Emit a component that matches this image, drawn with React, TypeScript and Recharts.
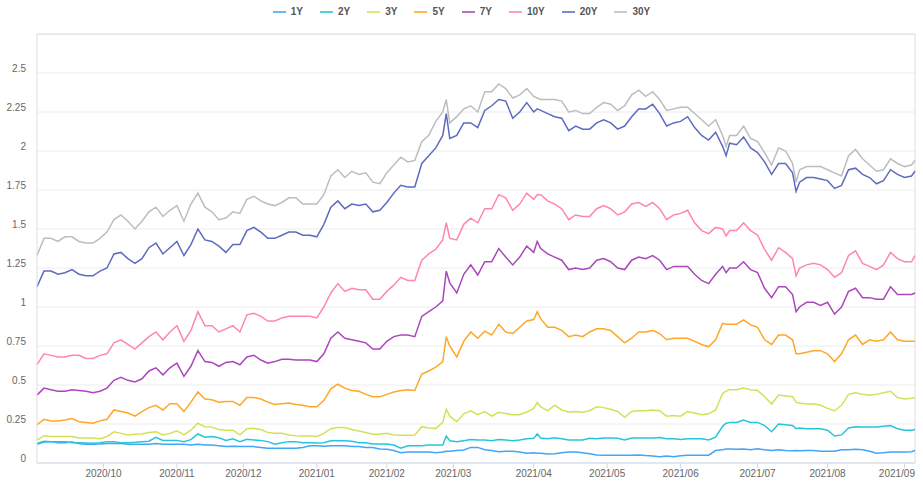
import React from "react";
import { LineChart, Line, XAxis, YAxis, CartesianGrid, ReferenceLine } from "recharts";

// trading-day number counted from 2020-09-03
const dayIndex = [
  0, 2, 4, 6, 8, 10, 12, 14, 16, 18,
  20, 22, 24, 26, 28, 30, 32, 34, 36, 38,
  40, 42, 44, 46, 48, 50, 52, 54, 56, 58,
  60, 62, 64, 66, 68, 70, 72, 74, 76, 78,
  80, 82, 84, 86, 88, 90, 92, 94, 96, 98,
  100, 102, 104, 106, 108, 110, 112, 114, 116,
  117, 118, 120, 122, 124, 126, 128, 130, 132, 134,
  136, 138, 140, 142, 143, 144, 146, 148, 150, 152, 154,
  156, 158, 160, 162, 164, 166, 168, 170, 172, 174,
  176, 178, 180, 182, 184, 186, 188, 190, 192, 194,
  196, 197, 198, 200, 202, 204, 206, 208, 210, 212,
  214, 216, 217, 218, 220, 222, 224, 226, 228, 230,
  232, 234, 236, 238, 240, 242, 244, 246, 248, 250,
  251,
];

const y1 = [
  0.12, 0.135, 0.137, 0.13, 0.13, 0.135, 0.125, 0.12, 0.12, 0.122,
  0.125, 0.125, 0.125, 0.12, 0.12, 0.12, 0.12, 0.125, 0.12, 0.12,
  0.12, 0.12, 0.115, 0.12, 0.115, 0.115, 0.11, 0.105, 0.107, 0.105,
  0.105, 0.105, 0.1, 0.095, 0.094, 0.094, 0.094, 0.094, 0.1, 0.11,
  0.11, 0.108, 0.11, 0.11, 0.11, 0.105, 0.105, 0.1, 0.1, 0.09,
  0.088, 0.08, 0.066, 0.07, 0.07, 0.07, 0.07, 0.065, 0.07,
  0.075, 0.075, 0.08, 0.083, 0.1, 0.1, 0.085, 0.08, 0.072, 0.075,
  0.075, 0.07, 0.062, 0.065, 0.063, 0.062, 0.058, 0.06, 0.065, 0.07, 0.07,
  0.065, 0.06, 0.052, 0.05, 0.05, 0.05, 0.05, 0.05, 0.052, 0.048,
  0.045, 0.04, 0.045, 0.04, 0.047, 0.05, 0.05, 0.05, 0.05, 0.08,
  0.085, 0.09, 0.09, 0.088, 0.09, 0.085, 0.092, 0.085, 0.08, 0.085,
  0.08, 0.079, 0.08, 0.078, 0.08, 0.08, 0.076, 0.076, 0.075, 0.085,
  0.085, 0.088, 0.085, 0.075, 0.062, 0.065, 0.07, 0.07, 0.07, 0.072,
  0.08,
];

const y2 = [
  0.126, 0.14, 0.137, 0.137, 0.137, 0.13, 0.13, 0.128, 0.126, 0.13,
  0.137, 0.137, 0.13, 0.13, 0.133, 0.137, 0.14, 0.165, 0.145, 0.145,
  0.145, 0.137, 0.15, 0.186, 0.165, 0.17, 0.162, 0.145, 0.155, 0.137,
  0.152, 0.148, 0.145, 0.137, 0.12, 0.13, 0.137, 0.137, 0.13, 0.13,
  0.128, 0.13, 0.143, 0.143, 0.143, 0.14, 0.13, 0.13, 0.122, 0.122,
  0.122, 0.115, 0.095, 0.11, 0.11, 0.11, 0.115, 0.115, 0.115,
  0.173, 0.143, 0.137, 0.143, 0.15, 0.147, 0.147, 0.143, 0.15, 0.147,
  0.143, 0.147, 0.155, 0.158, 0.186, 0.16, 0.155, 0.162, 0.155, 0.147, 0.147,
  0.147, 0.158, 0.155, 0.16, 0.16, 0.158, 0.147, 0.16, 0.16, 0.16,
  0.16, 0.163, 0.155, 0.155, 0.15, 0.155, 0.155, 0.155, 0.147, 0.165,
  0.235, 0.255, 0.26, 0.26, 0.276, 0.26, 0.26, 0.24, 0.2, 0.25,
  0.245, 0.24, 0.22, 0.225, 0.22, 0.22, 0.22, 0.21, 0.173, 0.18,
  0.225, 0.233, 0.23, 0.23, 0.23, 0.235, 0.24, 0.22, 0.21, 0.21,
  0.215,
];

const y3 = [
  0.147, 0.175, 0.17, 0.17, 0.17, 0.17, 0.16, 0.16, 0.16, 0.155,
  0.17, 0.2, 0.19, 0.18, 0.185, 0.186, 0.195, 0.2, 0.18, 0.19,
  0.207, 0.18, 0.21, 0.255, 0.233, 0.23, 0.215, 0.21, 0.21, 0.18,
  0.22, 0.222, 0.215, 0.195, 0.19, 0.19, 0.18, 0.175, 0.173, 0.173,
  0.17, 0.19, 0.22, 0.228, 0.228, 0.215, 0.205, 0.195, 0.185, 0.185,
  0.19, 0.18, 0.178, 0.178, 0.18, 0.233, 0.225, 0.222, 0.26,
  0.344, 0.3, 0.265, 0.315, 0.335, 0.31, 0.33, 0.3, 0.325, 0.317,
  0.31, 0.31, 0.327, 0.35, 0.387, 0.36, 0.335, 0.37, 0.34, 0.327, 0.33,
  0.325, 0.335, 0.36, 0.355, 0.345, 0.33, 0.293, 0.33, 0.335, 0.335,
  0.34, 0.335, 0.3, 0.305, 0.3, 0.33, 0.32, 0.31, 0.315, 0.34,
  0.445, 0.46, 0.47, 0.47, 0.48, 0.47, 0.465, 0.425, 0.378, 0.436,
  0.43, 0.425, 0.39, 0.385, 0.378, 0.38, 0.37, 0.35, 0.335, 0.37,
  0.44, 0.45, 0.44, 0.435, 0.44, 0.45, 0.46, 0.42, 0.41, 0.415,
  0.42,
];

const y5 = [
  0.245, 0.28, 0.27, 0.27, 0.275, 0.285, 0.265, 0.26, 0.255, 0.27,
  0.28, 0.34, 0.33, 0.32, 0.3, 0.33, 0.355, 0.37, 0.34, 0.38,
  0.38, 0.33, 0.39, 0.455, 0.41, 0.405, 0.39, 0.395, 0.395, 0.37,
  0.42, 0.42, 0.41, 0.39, 0.375, 0.38, 0.385, 0.375, 0.37, 0.36,
  0.36, 0.4, 0.475, 0.505, 0.48, 0.465, 0.46, 0.44, 0.425, 0.425,
  0.44, 0.455, 0.465, 0.47, 0.465, 0.57, 0.59, 0.615, 0.65,
  0.81, 0.75, 0.68, 0.78, 0.84, 0.8, 0.845, 0.82, 0.89, 0.84,
  0.83, 0.87, 0.91, 0.92, 0.97, 0.925, 0.87, 0.87, 0.85, 0.81, 0.82,
  0.81, 0.84, 0.86, 0.86, 0.85, 0.81, 0.77, 0.8, 0.84, 0.84,
  0.85, 0.83, 0.79, 0.8, 0.8, 0.8, 0.78, 0.76, 0.745, 0.79,
  0.895, 0.89, 0.89, 0.89, 0.917, 0.885, 0.87, 0.79, 0.76, 0.82,
  0.82, 0.79, 0.7, 0.7, 0.71, 0.72, 0.72, 0.7, 0.65, 0.7,
  0.79, 0.82, 0.76, 0.79, 0.78, 0.79, 0.84, 0.79, 0.78, 0.78,
  0.78,
];

const y7 = [
  0.435, 0.48, 0.47, 0.46, 0.46, 0.47, 0.465, 0.46, 0.45, 0.46,
  0.48, 0.53, 0.55, 0.53, 0.52, 0.54, 0.59, 0.61, 0.565, 0.61,
  0.64, 0.555, 0.62, 0.72, 0.65, 0.645, 0.62, 0.645, 0.65, 0.63,
  0.68, 0.69, 0.66, 0.64, 0.65, 0.665, 0.665, 0.66, 0.66, 0.66,
  0.65, 0.7, 0.8, 0.84, 0.8, 0.79, 0.78, 0.77, 0.73, 0.73,
  0.78, 0.81, 0.82, 0.82, 0.81, 0.94, 0.97, 1.0, 1.04,
  1.23, 1.155, 1.09, 1.21, 1.27, 1.205, 1.29, 1.29, 1.375, 1.32,
  1.27, 1.32, 1.39, 1.35, 1.42, 1.375, 1.34, 1.32, 1.3, 1.24, 1.25,
  1.24, 1.25, 1.3, 1.31, 1.29, 1.25, 1.24, 1.3, 1.32, 1.31,
  1.33, 1.3, 1.24, 1.26, 1.26, 1.26, 1.21, 1.17, 1.15, 1.21,
  1.26, 1.22, 1.25, 1.25, 1.29, 1.24, 1.22, 1.12, 1.06, 1.13,
  1.13, 1.08, 0.97, 1.0, 1.03, 1.03, 1.01, 1.03, 0.955, 1.0,
  1.1, 1.12, 1.06, 1.06, 1.05, 1.05, 1.13, 1.08, 1.08, 1.08,
  1.09,
];

const y10 = [
  0.63, 0.7, 0.69, 0.68, 0.68, 0.69, 0.69, 0.67, 0.67, 0.69,
  0.7, 0.77, 0.79, 0.76, 0.73, 0.77, 0.81, 0.84, 0.79, 0.84,
  0.88, 0.78, 0.85, 0.97, 0.88, 0.88, 0.84, 0.86, 0.88, 0.84,
  0.95, 0.96, 0.94, 0.91, 0.91, 0.93, 0.94, 0.94, 0.94, 0.94,
  0.93, 1.0, 1.09, 1.15, 1.1, 1.12, 1.11, 1.11, 1.05, 1.05,
  1.1, 1.14, 1.19, 1.17, 1.17, 1.3, 1.34, 1.37, 1.43,
  1.54, 1.44, 1.43, 1.53, 1.57, 1.54, 1.63, 1.63, 1.72, 1.7,
  1.62, 1.66, 1.73, 1.69, 1.72, 1.72, 1.68, 1.66, 1.63, 1.56, 1.59,
  1.58, 1.58, 1.63, 1.65, 1.63, 1.59, 1.61, 1.66, 1.67, 1.645,
  1.67, 1.63, 1.56, 1.59, 1.6, 1.62, 1.54, 1.49, 1.47, 1.51,
  1.5, 1.455, 1.49, 1.49, 1.54, 1.49, 1.46, 1.37, 1.3, 1.38,
  1.35, 1.31, 1.2, 1.25, 1.27, 1.28, 1.27, 1.24, 1.19, 1.22,
  1.33, 1.36, 1.28, 1.26, 1.24, 1.27, 1.35, 1.31, 1.29, 1.29,
  1.33,
];

const y20 = [
  1.13, 1.23, 1.23, 1.21, 1.22, 1.24, 1.21, 1.2, 1.2, 1.23,
  1.25, 1.34, 1.35, 1.31, 1.28, 1.31, 1.38, 1.41, 1.34, 1.38,
  1.42, 1.33, 1.4, 1.5, 1.43, 1.42, 1.39, 1.35, 1.4, 1.4,
  1.49, 1.51, 1.48, 1.44, 1.44, 1.46, 1.48, 1.48, 1.46, 1.46,
  1.45, 1.53, 1.64, 1.68, 1.63, 1.66, 1.65, 1.66, 1.61, 1.62,
  1.67, 1.73, 1.78, 1.77, 1.77, 1.92, 1.97, 2.02, 2.1,
  2.24, 2.08, 2.1, 2.18, 2.18, 2.15, 2.26, 2.29, 2.33, 2.32,
  2.21, 2.25, 2.31, 2.25, 2.27, 2.26, 2.24, 2.22, 2.21, 2.13, 2.16,
  2.14, 2.14, 2.18, 2.2, 2.18, 2.14, 2.16, 2.22, 2.27, 2.27,
  2.3, 2.24, 2.16, 2.18, 2.19, 2.22, 2.15, 2.1, 2.07, 2.12,
  2.03, 1.97, 2.05, 2.04, 2.09, 2.02, 1.99, 1.93, 1.85, 1.92,
  1.92, 1.86, 1.74, 1.8, 1.83, 1.83, 1.82, 1.81, 1.76, 1.78,
  1.88, 1.89, 1.85, 1.83, 1.79, 1.81, 1.88, 1.85, 1.83, 1.84,
  1.87,
];

const y30 = [
  1.33, 1.44, 1.44, 1.42, 1.45, 1.45, 1.42, 1.41, 1.41, 1.44,
  1.48, 1.56, 1.59, 1.55, 1.5, 1.55, 1.61, 1.64, 1.58, 1.62,
  1.65, 1.55, 1.66, 1.73, 1.64, 1.61, 1.56, 1.57, 1.61, 1.6,
  1.69, 1.71, 1.68, 1.66, 1.65, 1.67, 1.7, 1.7, 1.66, 1.66,
  1.66, 1.72, 1.84, 1.88, 1.83, 1.87, 1.85, 1.86, 1.8, 1.79,
  1.86, 1.91, 1.96, 1.93, 1.94, 2.06, 2.1, 2.19, 2.25,
  2.33, 2.18, 2.22, 2.27, 2.29, 2.25, 2.38, 2.38, 2.43, 2.4,
  2.34, 2.36, 2.4, 2.35, 2.34, 2.33, 2.33, 2.33, 2.32, 2.25, 2.26,
  2.24, 2.24, 2.28, 2.31, 2.3, 2.26, 2.29, 2.36, 2.39, 2.35,
  2.38, 2.33, 2.26, 2.27, 2.28, 2.28, 2.24, 2.2, 2.16, 2.2,
  2.1, 2.03, 2.1, 2.1, 2.16, 2.08, 2.06, 1.99, 1.91, 2.02,
  2.0, 1.92, 1.8, 1.88, 1.9, 1.9, 1.9, 1.88, 1.86, 1.84,
  1.97, 2.01, 1.95, 1.91, 1.87, 1.88, 1.95, 1.92, 1.9, 1.91,
  1.94,
];

const monthTicks = [19, 40, 59, 80, 100, 119, 142, 163, 184, 206, 226, 248];
const monthLabels = [
  "2020/10", "2020/11", "2020/12", "2021/01", "2021/02", "2021/03",
  "2021/04", "2021/05", "2021/06", "2021/07", "2021/08", "2021/09",
];
const yTicks = [0, 0.25, 0.5, 0.75, 1, 1.25, 1.5, 1.75, 2, 2.25, 2.5];
const yTickLabels = ["0", "0.25", "0.5", "0.75", "1", "1.25", "1.5", "1.75", "2", "2.25", "2.5"];

const seriesNames = ["1Y", "2Y", "3Y", "5Y", "7Y", "10Y", "20Y", "30Y"];
const seriesValues = [y1, y2, y3, y5, y7, y10, y20, y30];
const seriesColors = ["#42a5f5", "#26c6da", "#d4e157", "#ffa726", "#ab47bc", "#ff85b5", "#5c6bc0", "#bdbdbd"];

const data = dayIndex.map((d, i) => {
  const row: Record<string, number> = { d };
  seriesNames.forEach((name, s) => {
    row[name] = seriesValues[s][i];
  });
  return row;
});

const FONT = "'Liberation Sans', Arial, sans-serif";
const CHART_W = 923;
const RIGHT_MARGIN = 8;

const XTick = (props: any) => {
  const { x, y, payload } = props;
  const idx = monthTicks.indexOf(payload.value);
  const label = idx >= 0 ? monthLabels[idx] : "";
  const plotRight = CHART_W - RIGHT_MARGIN;
  const halfW = 18;
  const overflow = x + halfW > plotRight;
  return (
    <text
      x={overflow ? plotRight : x}
      y={y + 6.5}
      textAnchor={overflow ? "end" : "middle"}
      fill="#666"
      fontSize={10}
      fontFamily={FONT}
    >
      {label}
    </text>
  );
};

const YTick = (props: any) => {
  const { x, y, payload } = props;
  const idx = yTicks.indexOf(payload.value);
  return (
    <text x={x - 3} y={y - 1} textAnchor="end" fill="#666" fontSize={10} fontFamily={FONT}>
      {idx >= 0 ? yTickLabels[idx] : payload.value}
    </text>
  );
};

export default function App() {
  return (
    <div style={{ position: "relative", width: CHART_W, height: 487, fontFamily: FONT }}>
      <style>{"body{margin:0}"}</style>
      <div
        style={{
          position: "absolute",
          top: 0,
          left: 0,
          width: CHART_W,
          height: 24,
          display: "flex",
          justifyContent: "center",
          alignItems: "center",
          zIndex: 2,
        }}
      >
        {seriesNames.map((name, s) => (
          <div
            key={name}
            style={{
              display: "flex",
              alignItems: "center",
              marginRight: s < seriesNames.length - 1 ? 17 : 0,
            }}
          >
            <span
              style={{
                display: "inline-block",
                width: 13,
                height: 2,
                background: seriesColors[s],
                opacity: 0.8,
                marginRight: 5,
              }}
            />
            <span style={{ fontSize: 10, fontWeight: 700, color: "#555", lineHeight: "12px" }}>{name}</span>
          </div>
        ))}
      </div>
      <LineChart width={CHART_W} height={487} data={data} margin={{ top: 34, right: RIGHT_MARGIN, bottom: 0, left: 0 }}>
        <CartesianGrid vertical={false} stroke="#ececec" />
        <XAxis
          type="number"
          dataKey="d"
          domain={[0, 251]}
          ticks={monthTicks}
          height={24}
          axisLine={{ stroke: "#ccd6eb" }}
          tickLine={{ stroke: "#ccd6eb" }}
          tickSize={5}
          tick={<XTick />}
          interval={0}
        />
        <YAxis
          type="number"
          domain={[0, 2.75]}
          ticks={yTicks}
          width={37}
          axisLine={{ stroke: "#dddddd" }}
          tickLine={false}
          tick={<YTick />}
          interval={0}
        />
        <ReferenceLine y={2.75} stroke="#dddddd" ifOverflow="visible" />
        <ReferenceLine x={251} stroke="#dddddd" ifOverflow="visible" />
        {seriesNames.map((name, s) => (
          <Line
            key={name}
            type="linear"
            dataKey={name}
            stroke={seriesColors[s]}
            strokeWidth={1.5}
            dot={false}
            activeDot={false}
            isAnimationActive={false}
          />
        ))}
      </LineChart>
    </div>
  );
}
